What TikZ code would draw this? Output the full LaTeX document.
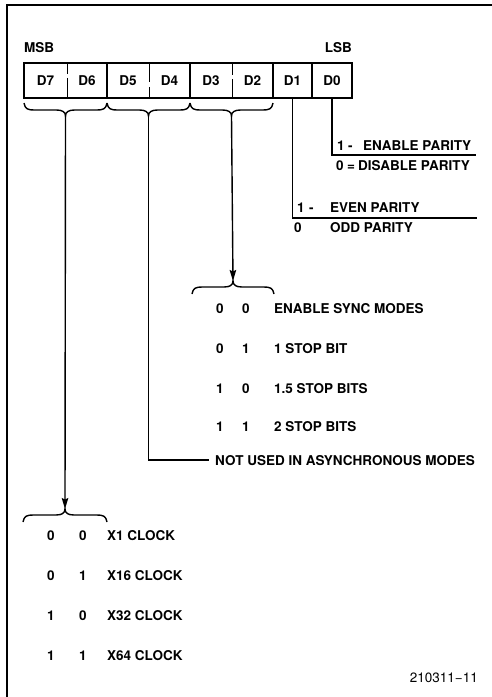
\documentclass[tikz,border=0pt]{standalone}
\usepackage{fontspec}
\setmainfont{TeX Gyre Heros}
\usetikzlibrary{arrows.meta}
\newcommand\mybrace[4]{% xL, xR, yEnd, dir (+1 tip down, -1 tip up)
  \draw[brc] (#1,#3) .. controls ({#1+1},{#3+6*#4}) and ({#1+4},{#3+7*#4}) .. ({#1+10},{#3+7*#4})
    -- ({(#1+#2)/2-9},{#3+7*#4}) .. controls ({(#1+#2)/2-3},{#3+7*#4}) and ({(#1+#2)/2},{#3+9*#4}) .. ({(#1+#2)/2},{#3+13*#4})
    .. controls ({(#1+#2)/2},{#3+9*#4}) and ({(#1+#2)/2+3},{#3+7*#4}) .. ({(#1+#2)/2+9},{#3+7*#4})
    -- ({#2-10},{#3+7*#4}) .. controls ({#2-4},{#3+7*#4}) and ({#2-1},{#3+6*#4}) .. (#2,#3);}
\begin{document}
\begin{tikzpicture}[x=1pt,y=-1pt,
  lbl/.style={font=\fontsize{13.5}{13.5}\selectfont\bfseries, inner sep=0pt, anchor=base west},
  dig/.style={font=\fontsize{13.5}{13.5}\selectfont\bfseries, inner sep=0pt, anchor=base},
  cell/.style={font=\fontsize{13.5}{13.5}\selectfont\bfseries, inner sep=0pt, minimum height=35pt},
  frame/.style={line width=1.5pt},
  box/.style={line width=2pt},
  conn/.style={line width=1.4pt},
  brc/.style={line width=1.4pt},
  arr/.style={conn,-{Stealth[length=11pt,width=6.5pt,inset=1.5pt]}}]
\useasboundingbox (0,0) rectangle (492,697);
% frame
\coordinate (fl) at (7,697);
\coordinate (fc) at (7,5);
\coordinate (fr) at (492,5);
\draw[frame] (fl) -- (fc) -- (fr);
% MSB / LSB
\node[lbl] (msb) at (24,52) {MSB};
\node[lbl, anchor=base east] (lsb) at (352,52) {LSB};
% register cells
\node[cell, minimum width=43pt] (d7) at (45.5,80.5) {D7};
\node[cell, minimum width=40pt] (d6) at (87,80.5) {D6};
\node[cell, minimum width=42pt] (d5) at (128,80.5) {D5};
\node[cell, minimum width=41pt] (d4) at (169.5,80.5) {D4};
\node[cell, minimum width=42pt] (d3) at (211,80.5) {D3};
\node[cell, minimum width=41pt] (d2) at (252.5,80.5) {D2};
\node[cell, minimum width=39pt] (d1) at (292.5,80.5) {D1};
\node[cell, minimum width=40pt] (d0) at (332,80.5) {D0};
\draw[box] (d7.north west) rectangle (d0.south east);
% solid dividers
\draw[box] (d6.north east) -- (d6.south east);
\draw[box] (d4.north east) -- (d4.south east);
\draw[box] (d2.north east) -- (d2.south east);
\draw[box] (d1.north east) -- (d1.south east);
% broken dividers
\draw[conn] (d7.north east) -- ([yshift=-11pt]d7.north east);
\draw[conn] ([yshift=-15pt]d7.north east) -- (d7.south east);
\draw[conn] (d5.north east) -- ([yshift=-19pt]d5.north east);
\draw[conn] ([yshift=-24pt]d5.north east) -- (d5.south east);
\draw[conn] (d3.north east) -- ([yshift=-12pt]d3.north east);
\draw[conn] ([yshift=-16pt]d3.north east) -- (d3.south east);
% top braces
\mybrace{24}{107}{103}{1}
\mybrace{107}{190}{103}{1}
\mybrace{190}{273}{103}{1}
\coordinate (t1) at (65.5,116);
\coordinate (t2) at (148.5,116);
\coordinate (t3) at (231.5,116);
% parity
\coordinate (p0) at (476,155);
\coordinate (p1) at (477,218);
\draw[conn] (d0.south) |- (p0);
\draw[conn] (d1.south) |- (p1);
\node[lbl] (e1) at (337,150) {1};
\node[lbl] (e2) at (348,150) {-};
\node[lbl] (e3) at (363,150) {ENABLE PARITY};
\node[lbl] (f1) at (336,170) {0};
\node[lbl] (f2) at (347,170) {=};
\node[lbl] (f3) at (358,170) {DISABLE PARITY};
\node[lbl] (g1) at (297,212) {1};
\node[lbl] (g2) at (309,212) {-};
\node[lbl] (g3) at (330,212) {EVEN PARITY};
\node[lbl] (h1) at (294,232) {0};
\node[lbl] (h3) at (330,232) {ODD PARITY};
% stop bits
\mybrace{192}{274}{294}{-1}
\coordinate (s0) at (233,281);
\draw[arr] (t3) -- (s0);
\node[dig] (sa1) at (220,313) {0}; \node[dig] (sa2) at (246,313) {0}; \node[lbl] (sa) at (274,313) {ENABLE SYNC MODES};
\node[dig] (sb1) at (220,353) {0}; \node[dig] (sb2) at (246,353) {1}; \node[lbl] (sb) at (274,353) {1 STOP BIT};
\node[dig] (sc1) at (220,393) {1}; \node[dig] (sc2) at (246,393) {0}; \node[lbl] (sc) at (274,393) {1.5 STOP BITS};
\node[dig] (sd1) at (220,431) {1}; \node[dig] (sd2) at (246,431) {1}; \node[lbl] (sd) at (274,431) {2 STOP BITS};
% not used
\node[lbl] (nu) at (215,465) {NOT USED IN ASYNCHRONOUS MODES};
\draw[conn] (t2) |- ([xshift=-6pt]nu.west);
% clock
\mybrace{23}{107}{522}{-1}
\coordinate (k0) at (65,509);
\draw[arr] (t1) -- (k0);
\node[dig] (ka1) at (51,540) {0}; \node[dig] (ka2) at (83,540) {0}; \node[lbl] (ka) at (107,540) {X1 CLOCK};
\node[dig] (kb1) at (51,580) {0}; \node[dig] (kb2) at (83,580) {1}; \node[lbl] (kb) at (107,580) {X16 CLOCK};
\node[dig] (kc1) at (51,620) {1}; \node[dig] (kc2) at (83,620) {0}; \node[lbl] (kc) at (107,620) {X32 CLOCK};
\node[dig] (kd1) at (51,660) {1}; \node[dig] (kd2) at (83,660) {1}; \node[lbl] (kd) at (107,660) {X64 CLOCK};
\node[font=\fontsize{13.5}{13.5}\selectfont, inner sep=0pt, anchor=base east] (fig) at (478,682) {210311−11};
\end{tikzpicture}
\end{document}
